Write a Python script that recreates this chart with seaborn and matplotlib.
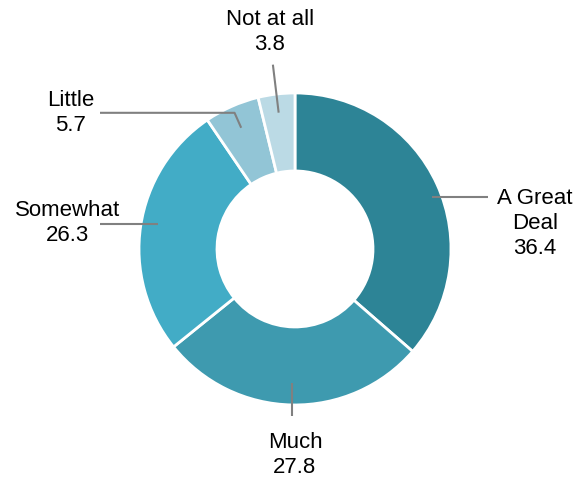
import matplotlib
matplotlib.use("Agg")
import matplotlib.pyplot as plt
import numpy as np
import seaborn as sns

# data
categories = ["A Great Deal", "Much", "Somewhat", "Little", "Not at all"]
values = [36.4, 27.8, 26.3, 5.7, 3.8]
label_text = ["A Great\nDeal", "Much", "Somewhat", "Little", "Not at all"]
colors = ["#2D8496", "#3E9AAF", "#42ACC6", "#92C5D6", "#BBDAE5"]

sns.set_theme(style="white")
plt.rcParams["font.family"] = ["Liberation Sans", "DejaVu Sans"]

fig = plt.figure(figsize=(5.79, 4.8), dpi=100)
ax = fig.add_axes([0, 0, 1, 1])
ax.pie(values, colors=colors, startangle=90, counterclock=False, radius=1.0,
       wedgeprops=dict(width=0.5, edgecolor="white", linewidth=2))
ax.set_xlim(-1.891, 1.8205)
ax.set_ylim(-1.481, 1.596)
ax.set_aspect("equal")
ax.axis("off")

# mid angles of slices (degrees, clockwise from top)
cum = np.cumsum([0] + values[:-1])
mids = 90 - (cum + np.array(values) / 2) * 3.6

line_kw = dict(color="#808080", lw=1.5, solid_capstyle="butt")
txt_kw = dict(fontsize=16, ha="center", va="center", color="black", linespacing=1.25)


def pol(r, a):
    t = np.deg2rad(a)
    return r * np.cos(t), r * np.sin(t)


# A Great Deal: horizontal leader to the right
x0, y0 = pol(0.94, mids[0] - 3.7)
ax.plot([x0, 1.24], [y0, y0], **line_kw)
ax.text(1.54, y0 - 0.17, f"{label_text[0]}\n{values[0]}", **txt_kw)

# Much: vertical leader downward
x0, y0 = pol(0.86, mids[1])
ax.plot([x0, x0], [y0, y0 - 0.21], **line_kw)
ax.text(0.0, -1.32, f"{label_text[1]}\n{values[1]}", **txt_kw)

# Somewhat: horizontal leader to the left
x0, y0 = pol(0.89, mids[2] - 1.8)
ax.plot([x0, -1.25], [y0, y0], **line_kw)
ax.text(-1.46, y0 + 0.01, f"{label_text[2]}\n{values[2]}", **txt_kw)

# Little: bent leader
x0, y0 = pol(0.85, mids[3])
x1, y1 = pol(0.955, mids[3])
ax.plot([x0, x1, -1.25], [y0, y1, y1], **line_kw)
ax.text(-1.44, y1 + 0.0, f"{label_text[3]}\n{values[3]}", **txt_kw)

# Not at all: radial leader upward
x0, y0 = pol(0.88, mids[4])
x1, y1 = pol(1.19, mids[4])
ax.plot([x0, x1], [y0, y1], **line_kw)
ax.text(-0.16, 1.39, f"{label_text[4]}\n{values[4]}", **txt_kw)

fig.savefig("out.png", dpi=100)
plt.close(fig)
